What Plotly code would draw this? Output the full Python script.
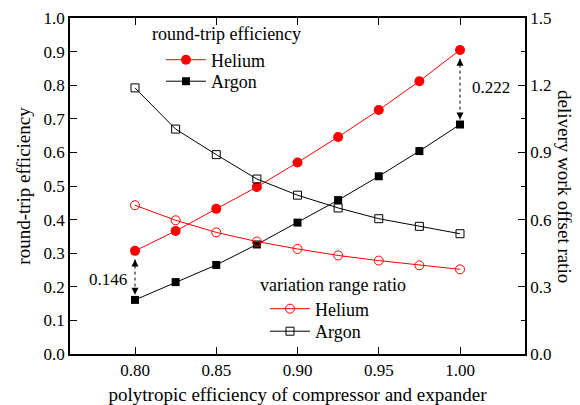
import plotly.graph_objects as go

x = [0.80, 0.825, 0.85, 0.875, 0.90, 0.925, 0.95, 0.975, 1.00]
rte_helium = [0.307, 0.366, 0.432, 0.497, 0.570, 0.646, 0.726, 0.812, 0.905]
rte_argon = [0.161, 0.214, 0.265, 0.326, 0.391, 0.458, 0.529, 0.604, 0.683]
ratio_helium = [0.664, 0.597, 0.543, 0.502, 0.469, 0.440, 0.417, 0.396, 0.378]
ratio_argon = [1.188, 1.004, 0.890, 0.781, 0.709, 0.652, 0.604, 0.570, 0.537]
gap_low_label = "0.146"
gap_high_label = "0.222"

FONT = "Liberation Serif, Times New Roman, serif"
RED = "#ff0000"
BLK = "#000000"

fig = go.Figure()

fig.add_trace(go.Scatter(x=x, y=rte_helium, name="Helium", mode="lines+markers",
                         line=dict(color=RED, width=1),
                         marker=dict(symbol="circle", size=10, color=RED),
                         legend="legend"))
fig.add_trace(go.Scatter(x=x, y=rte_argon, name="Argon", mode="lines+markers",
                         line=dict(color=BLK, width=1),
                         marker=dict(symbol="square", size=8, color=BLK),
                         legend="legend3"))
fig.add_trace(go.Scatter(x=x, y=ratio_helium, name="Helium", mode="lines+markers",
                         line=dict(color=RED, width=1),
                         marker=dict(symbol="circle-open", size=9, color=RED, line=dict(width=1)),
                         yaxis="y2", legend="legend2"))
fig.add_trace(go.Scatter(x=x, y=ratio_argon, name="Argon", mode="lines+markers",
                         line=dict(color=BLK, width=1),
                         marker=dict(symbol="square-open", size=8, color=BLK, line=dict(width=1)),
                         yaxis="y2", legend="legend4"))

# dotted double arrows showing the gaps
for i in (0, len(x) - 1):
    top = rte_helium[i] - 0.026
    bot = rte_argon[i] + 0.015
    fig.add_trace(go.Scatter(x=[x[i], x[i]], y=[top, bot], mode="lines+markers",
                             line=dict(color=BLK, width=1, dash="dot"),
                             marker=dict(symbol=["arrow-up", "arrow-down"], size=7, color=BLK),
                             showlegend=False, hoverinfo="skip"))

txt_font = dict(family=FONT, size=17, color=BLK)
ttl_font = dict(family=FONT, size=18, color=BLK)
fig.add_annotation(x=x[0], y=(rte_helium[0] + rte_argon[0]) / 2 - 0.012, text=gap_low_label,
                   showarrow=False, xanchor="right", xshift=-6, font=txt_font)
fig.add_annotation(x=x[-1], y=(rte_helium[-1] + rte_argon[-1]) / 2, text=gap_high_label,
                   showarrow=False, xanchor="left", xshift=10, font=txt_font)

# legend titles
fig.add_annotation(xref="paper", yref="paper", x=0.176, y=0.953, text="round-trip efficiency",
                   showarrow=False, xanchor="left", yanchor="middle", font=ttl_font)
fig.add_annotation(xref="paper", yref="paper", x=0.413, y=0.204, text="variation range ratio",
                   showarrow=False, xanchor="left", yanchor="middle", font=ttl_font)

# right axis title (reads top to bottom)
fig.add_annotation(xref="paper", yref="paper", x=1.088, y=0.5, text="delivery work offset ratio",
                   textangle=90, showarrow=False, xanchor="center", yanchor="middle",
                   font=dict(family=FONT, size=19, color=BLK))

axis_common = dict(showline=True, linewidth=1.5, linecolor=BLK, ticks="inside", ticklen=7,
                   tickwidth=1, tickcolor=BLK, showgrid=False, zeroline=False, automargin=False,
                   tickfont=dict(family=FONT, size=17, color=BLK))

leg_common = dict(xanchor="left", yanchor="middle", bgcolor="rgba(0,0,0,0)",
                  font=dict(family=FONT, size=18, color=BLK), itemwidth=40)

fig.update_layout(
    width=580, height=405,
    margin=dict(l=70, r=55, t=18, b=51, autoexpand=False),
    paper_bgcolor="white", plot_bgcolor="white",
    font=dict(family=FONT, size=17, color=BLK),
    xaxis=dict(range=[0.76, 1.04], tickvals=[0.80, 0.85, 0.90, 0.95, 1.00], tickformat=".2f",
               mirror="ticks",
               title=dict(text="polytropic efficiency of compressor and expander",
                          font=dict(family=FONT, size=19, color=BLK), standoff=18),
               **axis_common),
    yaxis=dict(range=[0, 1.0], dtick=0.1, tickformat=".1f",
               title=dict(text="round-trip efficiency", font=dict(family=FONT, size=19, color=BLK),
                          standoff=8),
               **axis_common),
    yaxis2=dict(range=[0, 1.5], dtick=0.3, tickformat=".1f", overlaying="y", side="right",
                minor=dict(ticks="inside", ticklen=4, dtick=0.15, tickcolor=BLK),
                **axis_common),
    legend=dict(x=0.2, y=0.875, **leg_common),
    legend3=dict(x=0.2, y=0.811, **leg_common),
    legend2=dict(x=0.4286, y=0.134, **leg_common),
    legend4=dict(x=0.4286, y=0.067, **leg_common),
)

fig.write_html("out.html")
